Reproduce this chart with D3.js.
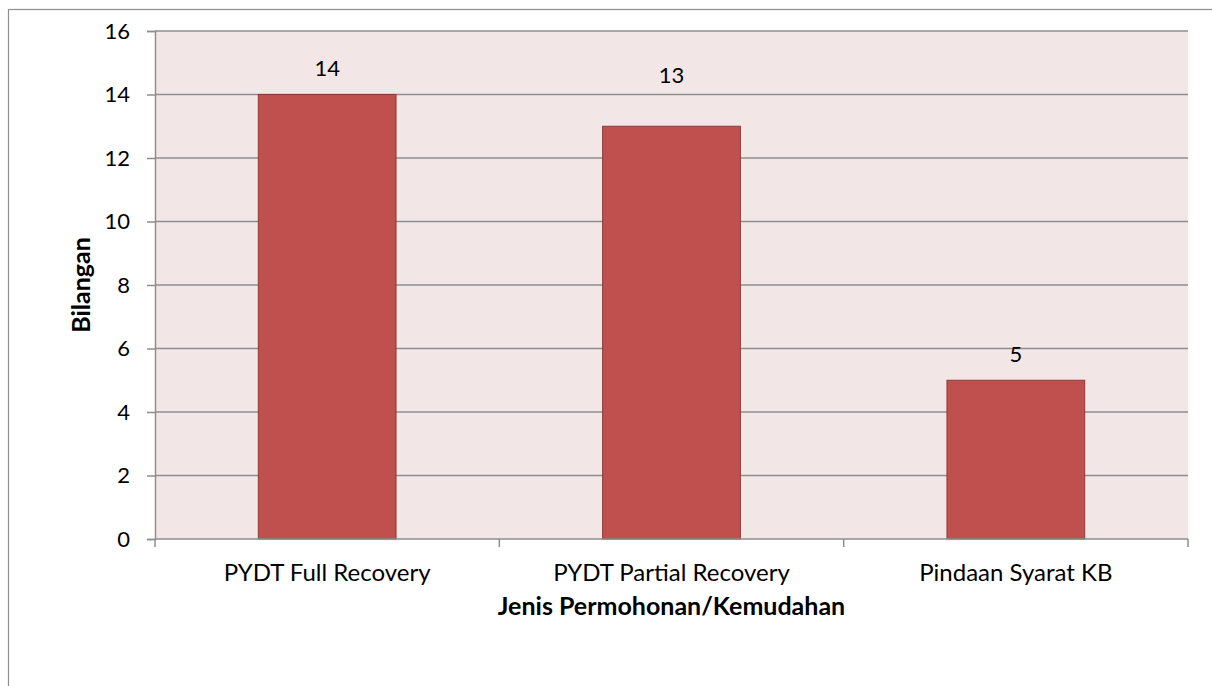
<!DOCTYPE html>
<html>
<head>
<meta charset="utf-8">
<script src="https://cdn.jsdelivr.net/npm/d3@7"></script>
<style>
  html, body { margin: 0; padding: 0; background: #fff; }
  svg { display: block; font-family: Lato, "Open Sans", sans-serif; }
</style>
</head>
<body>
<svg id="chart" width="1212" height="686"></svg>
<script>
const categories = ["PYDT Full Recovery", "PYDT Partial Recovery", "Pindaan Syarat KB"];
const values = [14, 13, 5];
const yTicks = [0, 2, 4, 6, 8, 10, 12, 14, 16];
const xTitle = "Jenis Permohonan/Kemudahan";
const yTitle = "Bilangan";
// extra lift (px) for data labels, as placed in the original
const labelLift = [19, 43, 18];

const svg = d3.select("#chart");
const W = 1212, H = 686;
const plot = { left: 155, top: 31, right: 1188, bottom: 539 };
const gridColor = "#8e8e8e";

// outer frame
svg.append("rect")
  .attr("x", 8.5).attr("y", 9.5)
  .attr("width", W + 20).attr("height", H + 20)
  .attr("fill", "#fff").attr("stroke", "#8e8e8e").attr("stroke-width", 1.2);

const xb = d3.scaleBand().domain(categories).range([plot.left, plot.right]);
const y = d3.scaleLinear().domain([0, 16]).range([plot.bottom, plot.top]);

// plot background
svg.append("rect")
  .attr("x", plot.left).attr("y", plot.top)
  .attr("width", plot.right - plot.left).attr("height", plot.bottom - plot.top)
  .attr("fill", "#f2e7e6");

// gridlines
svg.append("g").selectAll("line").data(yTicks.filter(d => d > 0)).join("line")
  .attr("x1", plot.left).attr("x2", plot.right)
  .attr("y1", d => y(d)).attr("y2", d => y(d))
  .attr("stroke", gridColor).attr("stroke-width", 1.5);

// bars
svg.append("g").selectAll("rect").data(values).join("rect")
  .attr("x", (d, i) => xb(categories[i]) + xb.bandwidth() * 0.3)
  .attr("width", xb.bandwidth() * 0.4)
  .attr("y", d => y(d))
  .attr("height", d => y(0) - y(d))
  .attr("fill", "#c0504d")
  .attr("stroke", "#8c3a38").attr("stroke-width", 1);

// value labels
svg.append("g").selectAll("text").data(values).join("text")
  .attr("x", (d, i) => xb(categories[i]) + xb.bandwidth() / 2)
  .attr("y", (d, i) => y(d) - labelLift[i])
  .attr("text-anchor", "middle")
  .attr("font-size", 22).attr("fill", "#000")
  .text(d => d);

// y axis
const yAxis = d3.axisLeft(y).tickValues(yTicks).tickSize(8).tickPadding(17);
const gy = svg.append("g").attr("transform", `translate(${plot.left},0)`).call(yAxis);
gy.attr("font-family", null).attr("font-size", null);
gy.select(".domain").attr("stroke", gridColor).attr("stroke-width", 1.5);
gy.selectAll(".tick line").attr("stroke", gridColor).attr("stroke-width", 1.5);
gy.selectAll(".tick text").attr("font-size", 22).attr("fill", "#000");

// x axis
const xAxis = d3.axisBottom(xb).tickSize(0).tickPadding(25);
const gx = svg.append("g").attr("transform", `translate(0,${plot.bottom})`).call(xAxis);
gx.attr("font-family", null).attr("font-size", null);
gx.select(".domain").attr("stroke", gridColor).attr("stroke-width", 1.5).attr("d", `M${plot.left},0H${plot.right}`);
gx.selectAll(".tick text").attr("font-size", 24).attr("fill", "#000");
// boundary ticks
const bounds = categories.map(c => xb(c)).concat([plot.right]);
gx.append("g").selectAll("line").data(bounds).join("line")
  .attr("x1", d => d).attr("x2", d => d).attr("y1", 0).attr("y2", 8)
  .attr("stroke", gridColor).attr("stroke-width", 1.5);

// axis titles
svg.append("text")
  .attr("x", (plot.left + plot.right) / 2).attr("y", 615)
  .attr("text-anchor", "middle").attr("font-size", 25).attr("font-weight", "bold")
  .text(xTitle);

svg.append("text")
  .attr("transform", `translate(90,${(plot.top + plot.bottom) / 2}) rotate(-90)`)
  .attr("text-anchor", "middle").attr("font-size", 25).attr("font-weight", "bold")
  .text(yTitle);
</script>
</body>
</html>
